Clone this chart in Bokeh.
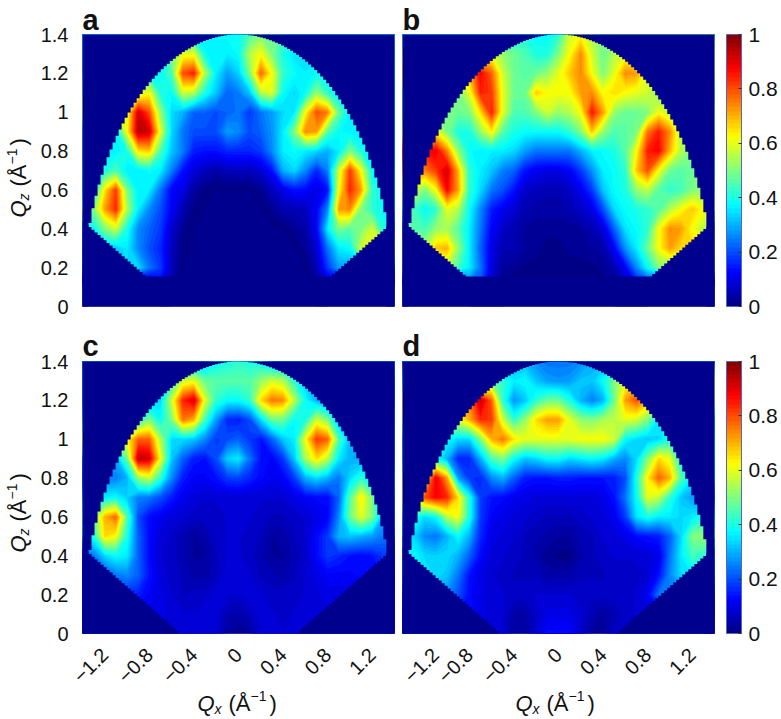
import numpy as np
from bokeh.plotting import figure
from bokeh.layouts import row, column
from bokeh.models import FixedTicker, Label, LinearColorMapper, ColorBar
from bokeh.embed import file_html
from bokeh.resources import INLINE

QX = [round(-1.4 + 0.1 * i, 1) for i in range(29)]
QZ = [round(1.4 - 0.1 * i, 1) for i in range(15)]
X_TICKS = [-1.2, -0.8, -0.4, 0, 0.4, 0.8, 1.2]
X_LABELS = ["\u22121.2", "\u22120.8", "\u22120.4", "0", "0.4", "0.8", "1.2"]
Z_TICKS = [0, 0.2, 0.4, 0.6, 0.8, 1.0, 1.2, 1.4]
Z_LABELS = ["0", "0.2", "0.4", "0.6", "0.8", "1", "1.2", "1.4"]
CB_TICKS = [0, 0.2, 0.4, 0.6, 0.8, 1]
CB_LABELS = ["0", "0.2", "0.4", "0.6", "0.8", "1"]

# intensity in percent, rows from Qz=1.4 down to 0, columns Qx=-1.4 .. 1.4
PANEL_A = [
 [36,36,36,36,36,36,36,36,36,36,36,36,38,38,38,45,50,50,45,40,40,40,40,40,40,40,40,40,40],
 [36,36,36,36,36,36,36,36,50,60,60,38,36,36,38,55,62,50,40,35,35,35,35,35,35,35,35,35,35],
 [38,38,38,38,38,38,38,38,45,80,85,55,36,28,33,50,78,62,42,38,36,38,38,38,38,38,38,38,38],
 [55,55,55,55,55,55,62,40,38,58,55,40,32,22,25,32,55,60,38,34,38,52,42,36,36,36,36,36,36],
 [60,60,60,60,60,92,80,52,34,30,22,22,20,22,24,18,24,28,34,36,62,80,75,48,36,36,36,36,36],
 [36,36,36,36,62,95,92,60,34,24,20,20,20,28,26,20,22,27,36,50,74,72,46,38,36,36,36,36,36],
 [36,36,36,36,40,65,68,45,32,25,15,14,14,16,16,16,18,26,36,38,36,34,30,36,50,40,36,36,36],
 [40,40,40,45,36,36,38,36,25,14, 9, 6, 4, 6, 6, 6, 8,14,30,34,26,16,25,58,82,62,38,38,38],
 [38,38,65,82,50,36,36,24,12,10, 3, 1, 0, 0, 0, 0, 2, 6,10,14,13,10,14,62,84,72,42,38,38],
 [50,50,72,84,55,36,26,20,12, 5, 1, 0, 0, 0, 0, 0, 0, 2, 5, 5, 6,12,26,72,74,50,42,38,38],
 [38,38,50,58,40,26,22,18, 8, 2, 0, 0, 0, 0, 0, 0, 0, 0, 0, 2, 4,12,36,50,46,50,58,40,40],
 [32,32,32,32,36,26,20,16, 6, 1, 0, 0, 0, 0, 0, 0, 0, 0, 0, 0, 2, 8,24,36,38,58,60,60,60],
 [34,34,34,34,34,34,24,18, 6, 0, 0, 0, 0, 0, 0, 0, 0, 0, 0, 0, 0, 5,18,28,28,28,28,28,28],
 [ 0, 0, 0, 0, 0, 0, 0,10, 3, 0, 0, 0, 0, 0, 0, 0, 0, 0, 0, 0, 0, 3, 5, 0, 0, 0, 0, 0, 0],
 [ 0, 0, 0, 0, 0, 0, 0, 0, 0, 0, 0, 0, 0, 0, 0, 0, 0, 0, 0, 0, 0, 0, 0, 0, 0, 0, 0, 0, 0],
]
PANEL_B = [
 [40,40,40,40,40,40,40,40,40,40,40,40,38,38,42,58,62,55,50,50,50,50,50,50,50,50,50,50,50],
 [60,60,60,60,60,60,60,60,60,52,48,45,40,40,50,62,74,58,48,55,60,60,60,60,60,60,60,60,60],
 [70,70,70,70,70,70,70,88,78,58,48,46,48,52,60,68,74,62,50,60,74,72,60,60,60,60,60,60,60],
 [50,50,50,50,50,50,60,85,82,60,48,48,68,62,62,62,72,74,62,66,62,60,58,50,50,50,50,50,50],
 [50,50,50,50,50,48,50,66,85,60,45,45,50,58,52,55,62,86,72,52,48,48,50,62,55,55,55,55,55],
 [62,62,62,62,50,40,40,52,64,46,40,38,38,38,38,42,50,68,52,45,46,50,76,85,74,55,55,55,55],
 [85,85,85,90,75,52,38,36,36,36,34,28,24,24,24,24,30,36,38,40,46,62,85,88,70,55,50,50,50],
 [75,75,75,82,92,70,42,36,32,25,22,14,11,10,10,12,18,27,36,38,42,68,80,62,48,46,48,48,48],
 [58,58,50,62,88,72,42,34,24,20,14, 7, 6, 5, 5, 7,11,18,32,38,40,52,56,46,42,44,50,52,52],
 [50,44,38,42,60,55,38,26,15,11, 8, 5, 4, 4, 4, 5, 7,10,20,34,38,40,42,46,55,62,68,62,62],
 [46,46,44,52,54,46,36,24,12, 7, 5, 3, 2, 2, 2, 2, 3, 5, 9,22,35,38,42,62,74,72,62,55,55],
 [55,55,55,68,70,52,36,22,10, 5, 5, 3, 2, 1, 1, 2, 2, 3, 4,12,27,36,48,62,72,66,66,66,66],
 [50,50,50,50,56,44,36,24, 9, 3, 2, 1, 1, 1, 1, 1, 1, 1, 2, 5,12,26,38,50,50,50,50,50,50],
 [ 0, 0, 0, 0, 0, 0,20,20, 7, 1, 0, 0, 0, 0, 0, 0, 0, 0, 0, 1, 5,10,10, 0, 0, 0, 0, 0, 0],
 [ 0, 0, 0, 0, 0, 0, 0, 0, 0, 0, 0, 0, 0, 0, 0, 0, 0, 0, 0, 0, 0, 0, 0, 0, 0, 0, 0, 0, 0],
]
PANEL_C = [
 [30,30,30,30,30,30,30,30,30,30,30,30,38,40,42,40,38,30,30,30,30,30,30,30,30,30,30,30,30],
 [30,30,30,30,30,30,30,30,42,58,60,48,46,46,46,46,52,58,55,42,32,26,26,26,26,26,26,26,26],
 [30,30,30,30,30,30,30,34,58,84,92,60,42,38,38,42,66,76,74,56,38,30,26,24,24,24,24,24,24],
 [40,40,40,40,40,40,50,38,50,76,70,44,28,16,15,20,34,48,48,38,40,58,50,30,30,30,30,30,30],
 [62,62,62,62,62,78,78,55,34,34,32,26,18,20,22,18,14,22,32,36,62,82,78,46,30,30,30,30,30],
 [30,30,30,30,48,94,92,62,32,22,15,14,20,33,36,24,14,12,18,32,54,66,56,36,30,28,28,28,28],
 [25,25,25,25,30,52,58,42,26,15,12,12,14,18,19,16,13,11,12,18,30,34,30,24,34,42,34,34,34],
 [35,35,36,38,33,25,24,20,15,11, 9, 8, 8, 8, 8, 8, 8, 8, 8,10,12,13,13,22,46,64,50,30,30],
 [48,48,70,78,46,20,13,11, 9, 8, 7, 7, 7, 8, 8, 8, 7, 6, 6, 7, 8,10,12,26,48,60,50,30,30],
 [40,40,66,62,40,22,13, 9, 7, 5, 3, 4, 7, 8, 8, 7, 6, 3, 4, 6, 8,13,18,30,32,30,28,24,24],
 [20,24,34,38,36,22,13, 8, 7, 5, 3, 3, 6, 8, 8, 7, 5, 3, 3, 5, 7,13,18,16,14,13,14,18,18],
 [15,15,18,24,26,22,14, 9, 7, 6, 4, 4, 6, 9, 9, 8, 6, 5, 4, 6, 8,10,12,12,12,13,14,14,14],
 [16,16,16,16,16,15,12,10, 8, 6, 7, 7, 9, 8, 8, 9, 8, 7, 7, 7, 8, 9,10,10,10,10,10,10,10],
 [10,10,10,10,10,10,10,10, 9, 8, 8, 9, 9, 5, 4, 6, 9, 8, 7, 8, 9, 9, 9, 9, 9, 9, 9, 9, 9],
 [ 8, 8, 8, 8, 8, 8, 8, 8, 8, 8, 8, 9, 8, 3, 2, 3, 8, 8, 8, 8, 8, 8, 8, 8, 8, 8, 8, 8, 8],
]
PANEL_D = [
 [30,30,30,30,30,30,30,30,30,30,30,30,26,24,24,24,26,30,30,30,30,30,30,30,30,30,30,30,30],
 [40,40,40,40,40,40,40,40,50,42,36,38,32,28,27,28,32,32,38,50,60,66,66,66,66,66,66,66,66],
 [70,70,70,70,70,70,75,94,78,42,27,32,42,48,48,40,30,25,30,48,72,80,70,60,60,60,60,60,60],
 [60,60,60,60,60,60,70,84,82,58,42,52,66,72,72,60,52,50,54,56,60,58,50,36,36,36,36,36,36],
 [38,38,38,38,38,34,34,50,70,76,65,60,60,60,60,60,62,62,62,58,38,34,32,34,40,40,40,40,40],
 [40,40,40,40,30,16,16,30,45,50,38,32,34,38,38,34,36,38,36,30,26,34,50,66,60,40,40,40,40],
 [60,60,60,90,72,28,18,16,26,30,22,15,14,14,15,15,14,14,14,15,20,40,64,78,70,46,36,36,36],
 [65,65,80,88,84,66,40,18,14,13,11,10, 9, 9, 9, 9, 9, 9,10,14,24,38,60,56,42,32,28,26,26],
 [40,40,34,38,55,62,40,18,12,10, 9, 8, 7, 6, 6, 6, 7, 8, 9,11,18,35,40,36,36,34,36,40,40],
 [34,34,26,24,30,38,30,16,10, 9, 8, 6, 5, 4, 3, 3, 5, 6, 8, 9,10,13,14,15,22,34,50,52,52],
 [36,38,34,33,34,30,22,13, 9, 8, 7, 6, 4, 2, 1, 1, 4, 6, 7, 8, 8, 8, 9,10,24,36,44,42,42],
 [38,38,36,34,32,24,14,10, 8, 7, 6, 6, 6, 4, 4, 4, 6, 6, 6, 7, 7, 7, 8,14,26,34,36,36,36],
 [26,26,26,26,26,20,13,10, 8, 8, 7, 7, 8, 8, 8, 8, 7, 7, 7, 7, 7, 8,12,24,24,24,24,24,24],
 [14,14,14,14,14,14,14,10, 9, 8, 4, 4, 7,10,10,10, 8, 5, 3, 5, 7, 8, 8, 8, 8, 8, 8, 8, 8],
 [ 8, 8, 8, 8, 8, 8, 8, 8, 8, 8, 3, 3, 8,13,13,13, 8, 3, 3, 7, 7, 7, 7, 7, 7, 7, 7, 7, 7],
]

FONT = "Liberation Sans"
BG = "#00008f"
LEVELS = [i / 64 for i in range(65)]

def jet(t):
    r = np.clip(1.5 - abs(4 * t - 3), 0, 1)
    g = np.clip(1.5 - abs(4 * t - 2), 0, 1)
    b = np.clip(1.5 - abs(4 * t - 1), 0, 1)
    return "#%02x%02x%02x" % (int(r * 255), int(g * 255), int(b * 255))

FILLS = [jet((i + .5) / 64) for i in range(64)]

def text(p, x, y, s, size, angle=0.0, style="normal", color="#111111"):
    p.add_layout(Label(x=x, y=y, x_units="screen", y_units="screen", text=s, angle=angle,
                       text_font=FONT, text_font_size=f"{size}px", text_font_style=style,
                       text_color=color, text_baseline="alphabetic", text_align="left"))

def strip(width, height):
    p = figure(frame_width=width, frame_height=height, x_range=(0, 1), y_range=(0, 1),
               min_border=0, output_backend="svg", toolbar_location=None,
               background_fill_color=None, border_fill_color=None, outline_line_color=None)
    p.axis.visible = False
    p.grid.visible = False
    return p

def y_label(p, by):
    pieces = [("Q", 0, 0, 22, "italic"), ("z", 17, 5, 14, "italic"), ("(\u00c5", 31, 0, 22, "normal"),
              ("\u22121", 53, -7, 14, "normal"), (")", 72, 0, 22, "normal")]
    for s, off, shift, size, style in pieces:
        text(p, 18 + shift, by + off, s, size, angle=np.pi / 2, style=style)

def x_label(p, bx):
    pieces = [("Q", 0, 0, 22, "italic"), ("x", 17, -5, 14, "italic"), ("(\u00c5", 31, 0, 22, "normal"),
              ("\u22121", 53, 8, 14, "normal"), (")", 72, 0, 22, "normal")]
    for s, off, shift, size, style in pieces:
        text(p, bx + off, 15 + shift, s, size, style=style)

def panel(data, left, right, top, bottom, show_x, show_y, cbar, floor):
    p = figure(frame_width=312, frame_height=272, x_range=(-1.4, 1.4), y_range=(0, 1.4),
               min_border_left=left, min_border_right=right, min_border_top=top, min_border_bottom=bottom,
               output_backend="svg", toolbar_location=None, background_fill_color=BG,
               border_fill_color=None, outline_line_color="#5a68b4", outline_line_width=1)
    p.grid.visible = False
    z = np.array(data, dtype=float)[::-1] / 100
    # nested filled contours: the library's contouring shades the grid, one band over the next
    for i in range(64):
        if z.max() > LEVELS[i]:
            p.contour(QX, QZ[::-1], z, levels=[LEVELS[i], 1.01], fill_color=[FILLS[i]], line_color=None)
    cm = LinearColorMapper(palette=FILLS, low=0, high=1)

    # detector coverage: outside this arc and wedge the map is empty (stepped edge)
    edges = np.append(np.arange(-1.4, 1.39, 0.027), 1.4)
    edges = np.concatenate(([-1.6], edges, [1.6]))
    xc = np.repeat(edges, 2)[1:-1]
    mid = np.repeat((edges[:-1] + edges[1:]) / 2, 2)
    radius = 1.4
    arc = np.sqrt(np.clip(radius**2 - mid**2, 0, None))
    low = np.clip(0.406 - 0.505 * (1.327 - np.abs(mid)), floor, None)
    arc = np.where(np.abs(mid) > 1.335, -0.2, arc)
    p.varea(x=xc, y1=arc, y2=1.6, fill_color=BG)
    p.varea(x=xc, y1=-0.2, y2=low, fill_color=BG)

    for ax in (p.xaxis[0], p.yaxis[0]):
        ax.axis_line_color = None
        ax.major_tick_line_color = None
        ax.minor_tick_line_color = None
        ax.major_label_text_font = FONT
        ax.major_label_text_font_size = "20px"
        ax.major_label_text_color = "#111111"
    p.yaxis[0].ticker = FixedTicker(ticks=Z_TICKS)
    p.yaxis[0].major_label_overrides = dict(zip(Z_TICKS, Z_LABELS))
    p.yaxis[0].major_label_standoff = 8
    p.yaxis[0].visible = show_y
    p.xaxis[0].ticker = FixedTicker(ticks=X_TICKS)
    p.xaxis[0].major_label_overrides = dict(zip(X_TICKS, X_LABELS))
    p.xaxis[0].major_label_orientation = np.pi / 4
    p.xaxis[0].major_label_standoff = 12
    p.xaxis[0].visible = show_x
    if cbar:
        cb = ColorBar(color_mapper=cm, width=15, height=272, padding=0, margin=12,
                      ticker=FixedTicker(ticks=CB_TICKS), major_label_overrides=dict(zip(CB_TICKS, CB_LABELS)),
                      major_label_text_font=FONT, major_label_text_font_size="21px", major_label_text_color="#111111",
                      major_tick_line_color="#333333", major_tick_in=3, major_tick_out=0,
                      bar_line_color="#5a68b4", label_standoff=7, location=(12, 0))
        p.add_layout(cb, "right")
    return p

head1 = strip(775, 35)
text(head1, 82, 16, "a", 29, style="bold")
text(head1, 402, 16, "b", 29, style="bold")
head2 = strip(775, 48)
text(head2, 82, 17, "c", 29, style="bold")
text(head2, 402, 17, "d", 29, style="bold")
side1 = strip(36, 287)
y_label(side1, 104)
side2 = strip(36, 279)
y_label(side2, 88)
foot = strip(775, 45)
x_label(foot, 197)
x_label(foot, 515)

a = panel(PANEL_A, 46, 8, 7, 8, False, True, False, 0.155)
b = panel(PANEL_B, 0, 0, 7, 8, False, False, True, 0.155)
c = panel(PANEL_C, 46, 8, 7, 60, True, True, False, 0.0)
d = panel(PANEL_D, 0, 0, 7, 60, True, False, True, 0.0)
row1 = row(side1, a, b, spacing=0, margin=(-8, 0, 0, 0))
row2 = row(side2, c, d, spacing=0, margin=(-8, 0, 0, 0))
foot.margin = (-20, 0, 0, 0)
page = column(head1, row1, head2, row2, foot, spacing=0)
open("out.html", "w").write(file_html(page, INLINE))
